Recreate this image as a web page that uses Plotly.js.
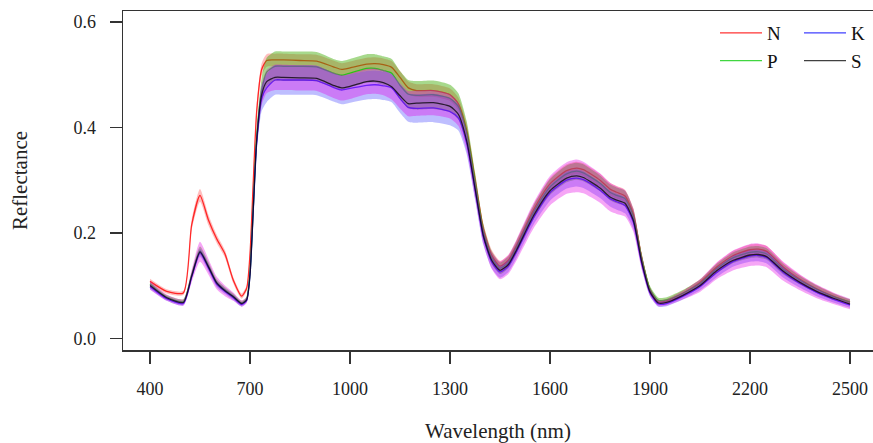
<!DOCTYPE html>
<html>
<head>
<meta charset="utf-8">
<script src="https://cdn.plot.ly/plotly-3.0.1.min.js"></script>
<style>html,body{margin:0;padding:0;background:#fff;}#chart{width:873px;height:443px;}</style>
</head>
<body>
<div id="chart"></div>
<script>
// Wavelength grid (nm)
const wavelength = [400,450,500,525,550,575,600,625,650,675,690,700,710,720,735,750,
  775,800,850,900,950,975,1000,1050,1075,1100,1125,1150,1175,1200,1250,1300,
  1325,1350,1375,1400,1425,1450,1475,1500,
  1550,1600,1650,1680,1700,1750,1780,1800,1825,1850,1875,1900,1925,1950,
  2000,2050,2100,2150,2200,2225,2250,2300,2350,2400,2450,2500];

// Mean reflectance per treatment
const meanN = [.108,.089,.086,.215,.271,.225,.189,.160,.110,.080,.095,.160,.300,.430,.510,.527,
  .528,.528,.527,.526,.515,.510,.513,.520,.521,.519,.514,.495,.475,.470,.470,.462,
  .445,.395,.302,.208,.158,.137,.148,.177,
  .243,.293,.318,.323,.320,.300,.283,.277,.270,.236,.153,.092,.069,.071,
  .086,.106,.135,.157,.168,.169,.165,.135,.112,.094,.080,.068];
const meanP = [.103,.078,.070,.120,.166,.138,.106,.092,.080,.067,.075,.125,.250,.380,.470,.505,
  .516,.516,.516,.515,.503,.499,.503,.512,.512,.508,.503,.480,.463,.461,.462,.455,
  .440,.390,.297,.203,.153,.133,.144,.173,
  .238,.287,.312,.317,.314,.294,.277,.271,.265,.232,.152,.093,.072,.073,
  .086,.104,.132,.153,.163,.164,.160,.131,.110,.093,.079,.069];
const meanK = [.098,.075,.066,.116,.162,.134,.103,.089,.077,.064,.072,.120,.245,.370,.455,.475,
  .490,.490,.490,.489,.476,.471,.474,.480,.481,.479,.475,.455,.438,.436,.437,.430,
  .418,.370,.282,.192,.145,.126,.137,.165,
  .228,.276,.300,.304,.301,.281,.265,.259,.252,.220,.142,.086,.065,.066,
  .080,.098,.125,.146,.156,.157,.153,.125,.104,.087,.074,.063];
const meanS = [.100,.077,.068,.118,.164,.136,.105,.090,.079,.066,.073,.120,.248,.375,.462,.487,
  .495,.495,.494,.493,.480,.475,.478,.487,.488,.485,.477,.460,.445,.446,.447,.440,
  .425,.375,.285,.195,.148,.129,.140,.168,
  .232,.280,.304,.308,.305,.285,.268,.262,.256,.224,.145,.088,.067,.068,
  .082,.100,.128,.148,.158,.159,.155,.127,.106,.089,.076,.065];

// Standard deviations per treatment
const sdN = [.005,.004,.004,.010,.012,.010,.008,.007,.006,.005,.005,.008,.012,.012,.012,.012,
  .012,.012,.012,.012,.012,.012,.012,.012,.012,.012,.012,.012,.012,.012,.012,.012,
  .012,.012,.012,.010,.010,.010,.010,.010,
  .010,.011,.012,.012,.012,.012,.012,.012,.012,.011,.008,.005,.004,.004,
  .005,.006,.008,.009,.010,.010,.010,.009,.008,.007,.006,.005];
const sdP = [.004,.004,.004,.006,.008,.007,.006,.005,.005,.004,.004,.006,.012,.018,.024,.027,
  .028,.028,.028,.028,.027,.027,.027,.027,.027,.027,.027,.027,.027,.027,.027,.026,
  .025,.022,.018,.014,.012,.011,.011,.012,
  .013,.015,.016,.016,.016,.015,.015,.015,.015,.013,.009,.006,.005,.005,
  .006,.007,.009,.010,.011,.011,.011,.010,.008,.007,.006,.005];
const sdK = [.005,.004,.004,.006,.008,.007,.006,.005,.005,.004,.004,.006,.012,.018,.024,.027,
  .028,.028,.028,.028,.027,.027,.027,.027,.027,.027,.027,.027,.027,.027,.027,.026,
  .024,.021,.018,.014,.012,.011,.011,.012,
  .013,.015,.016,.016,.016,.015,.015,.015,.015,.013,.009,.006,.005,.005,
  .006,.007,.009,.010,.011,.011,.011,.010,.008,.007,.006,.005];
const sdS = [.008,.006,.006,.012,.019,.015,.012,.010,.008,.006,.006,.008,.012,.016,.020,.022,
  .024,.024,.024,.024,.024,.024,.024,.024,.024,.024,.024,.024,.024,.024,.024,.023,
  .022,.020,.018,.016,.016,.017,.018,.020,
  .024,.028,.030,.031,.030,.028,.027,.026,.025,.022,.014,.008,.006,.006,
  .008,.012,.016,.019,.021,.021,.020,.018,.015,.013,.011,.010];

const seriesNames = ['N','P','K','S'];
const xTicks = [400,700,1000,1300,1600,1900,2200,2500];
const yTicks = [0.0,0.2,0.4,0.6];

const series = [
  {name:'N', mean:meanN, sd:sdN, line:'rgba(255,0,0,0.8)',  band:'rgba(255,40,40,0.30)', legend:'legend'},
  {name:'P', mean:meanP, sd:sdP, line:'rgba(0,200,0,0.75)', band:'rgba(60,170,0,0.45)',  legend:'legend'},
  {name:'K', mean:meanK, sd:sdK, line:'rgba(0,0,255,0.75)', band:'rgba(40,40,255,0.30)', legend:'legend2'},
  {name:'S', mean:meanS, sd:sdS, line:'rgba(0,0,0,0.75)',   band:'rgba(230,0,230,0.35)', legend:'legend2'}
];

const traces = [];
series.forEach(s => {
  const up = s.mean.map((m,i) => m + s.sd[i]);
  const lo = s.mean.map((m,i) => m - s.sd[i]);
  traces.push({x:wavelength, y:up, mode:'lines', line:{width:0, color:s.band, shape:'spline', smoothing:0.6},
    showlegend:false, hoverinfo:'skip'});
  traces.push({x:wavelength, y:lo, mode:'lines', line:{width:0, color:s.band, shape:'spline', smoothing:0.6},
    fill:'tonexty', fillcolor:s.band, showlegend:false, hoverinfo:'skip'});
  traces.push({x:wavelength, y:s.mean, mode:'lines', name:s.name, legend:s.legend,
    line:{width:1.3, color:s.line, shape:'spline', smoothing:0.6}});
});

const L = 123, R = 0, T = 11, B = 93, W = 873, H = 443;
const pw = W - L - R;
const serif = 'Liberation Serif, Times New Roman, serif';

const layout = {
  width: W, height: H,
  margin: {l:L, r:R, t:T, b:B, pad:0},
  paper_bgcolor:'#ffffff', plot_bgcolor:'#ffffff',
  showlegend: true,
  xaxis: {
    range:[319, 2569], tickvals:xTicks, ticktext:xTicks.map(String),
    showgrid:false, zeroline:false, showline:true, mirror:true, linecolor:'#333', linewidth:1.5,
    ticks:'outside', ticklen:12, tickwidth:1.5, tickcolor:'#333',
    tickfont:{family:serif, size:18, color:'#222'}, ticklabelstandoff:10,
    title:{text:'Wavelength (nm)', font:{family:serif, size:21, color:'#222'}, standoff:26}
  },
  yaxis: {
    range:[-0.0222, 0.6209], tickvals:yTicks, ticktext:yTicks.map(v=>v.toFixed(1)),
    showgrid:false, zeroline:false, showline:true, mirror:false, linecolor:'#333', linewidth:1.5,
    ticks:'outside', ticklen:12, tickwidth:1.5, tickcolor:'#333',
    tickfont:{family:serif, size:18, color:'#222'}, ticklabelstandoff:10,
    title:{text:'Reflectance', font:{family:serif, size:21, color:'#222'}, standoff:40}
  },
  legend: {x:(715-L)/pw, y:0.991, xanchor:'left', yanchor:'top', bgcolor:'rgba(0,0,0,0)', traceorder:'normal',
    font:{family:serif, size:19, color:'#111'}, tracegroupgap:0, itemwidth:42},
  legend2: {x:(799-L)/pw, y:0.991, xanchor:'left', yanchor:'top', bgcolor:'rgba(0,0,0,0)', traceorder:'normal',
    font:{family:serif, size:19, color:'#111'}, tracegroupgap:0, itemwidth:42}
};

Plotly.newPlot('chart', traces, layout, {displayModeBar:false, staticPlot:true});
</script>
</body>
</html>
